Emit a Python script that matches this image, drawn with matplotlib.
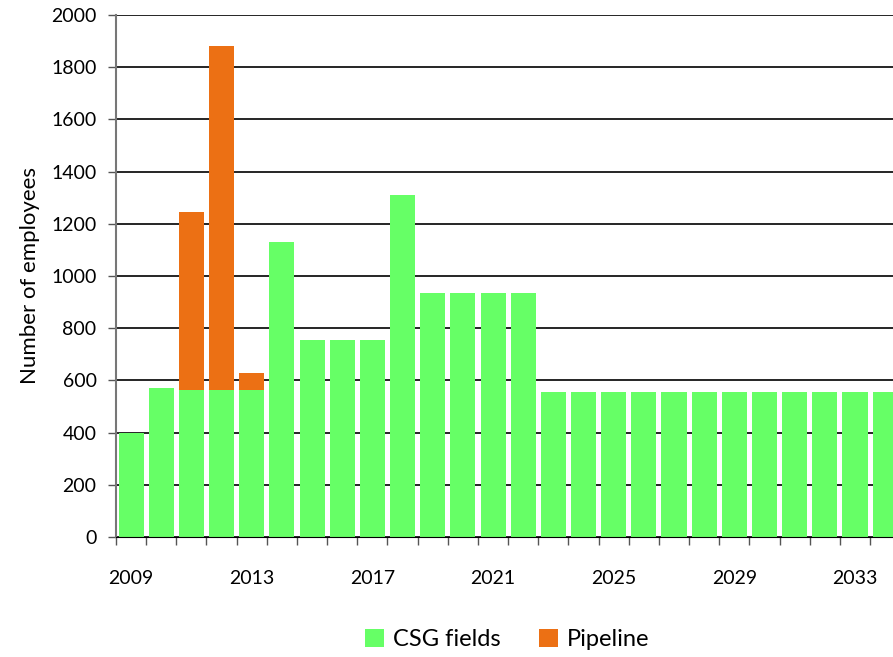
import numpy as np
import matplotlib
matplotlib.use('Agg')
import matplotlib.pyplot as plt
from matplotlib.ticker import FixedLocator, NullFormatter

years = list(range(2009, 2035))
csg_fields = [400, 570, 565, 565, 565, 1130, 755, 755, 755, 1310, 935, 935, 935, 935,
              555, 555, 555, 555, 555, 555, 555, 555, 555, 555, 555, 555]
pipeline = [0, 0, 680, 1315, 65, 0, 0, 0, 0, 0, 0, 0, 0, 0,
            0, 0, 0, 0, 0, 0, 0, 0, 0, 0, 0, 0]
tick_years = [2009, 2013, 2017, 2021, 2025, 2029, 2033]

plt.rcParams['font.family'] = ['Lato', 'DejaVu Sans']

fig = plt.figure(figsize=(8.93, 6.57), dpi=100)
ax = fig.add_axes([116 / 893, 120 / 657, 777 / 893, 522 / 657])

x = np.arange(len(years)) + 0.5
ax.bar(x, csg_fields, width=0.83, color='#66FF66', label='CSG fields', zorder=2)
ax.bar(x, pipeline, width=0.83, bottom=csg_fields, color='#EC7014', label='Pipeline', zorder=2)

ax.set_xlim(0, 25.76)
ax.set_ylim(0, 2000)
ax.set_yticks(range(0, 2001, 200))
ax.yaxis.grid(True, color='black', lw=1.2, zorder=0)
ax.set_axisbelow(True)

# boundary ticks without labels, year labels centred in slots
ax.xaxis.set_major_locator(FixedLocator(np.arange(0, 26)))
ax.xaxis.set_major_formatter(NullFormatter())
ax.set_xticks([years.index(y) + 0.5 for y in tick_years], minor=True)
ax.set_xticklabels([str(y) for y in tick_years], minor=True)
ax.tick_params(axis='x', which='major', length=6, color='#555555', width=1)
ax.tick_params(axis='x', which='minor', length=0, pad=24, labelsize=14)
ax.tick_params(axis='y', length=6, color='#555555', width=1, pad=8, labelsize=14)

for s in ['top', 'right']:
    ax.spines[s].set_visible(False)
ax.spines['left'].set_color('#777777')
ax.spines['left'].set_linewidth(1.5)
ax.spines['bottom'].set_color('black')

ax.set_ylabel('Number of employees', fontsize=16, labelpad=8)

fig.legend(loc='lower center', bbox_to_anchor=(0.568, -0.022), ncol=2, frameon=False,
           fontsize=17, handlelength=0.8, handleheight=0.8, handletextpad=0.4,
           columnspacing=1.6)

fig.savefig('out.png', dpi=100)
